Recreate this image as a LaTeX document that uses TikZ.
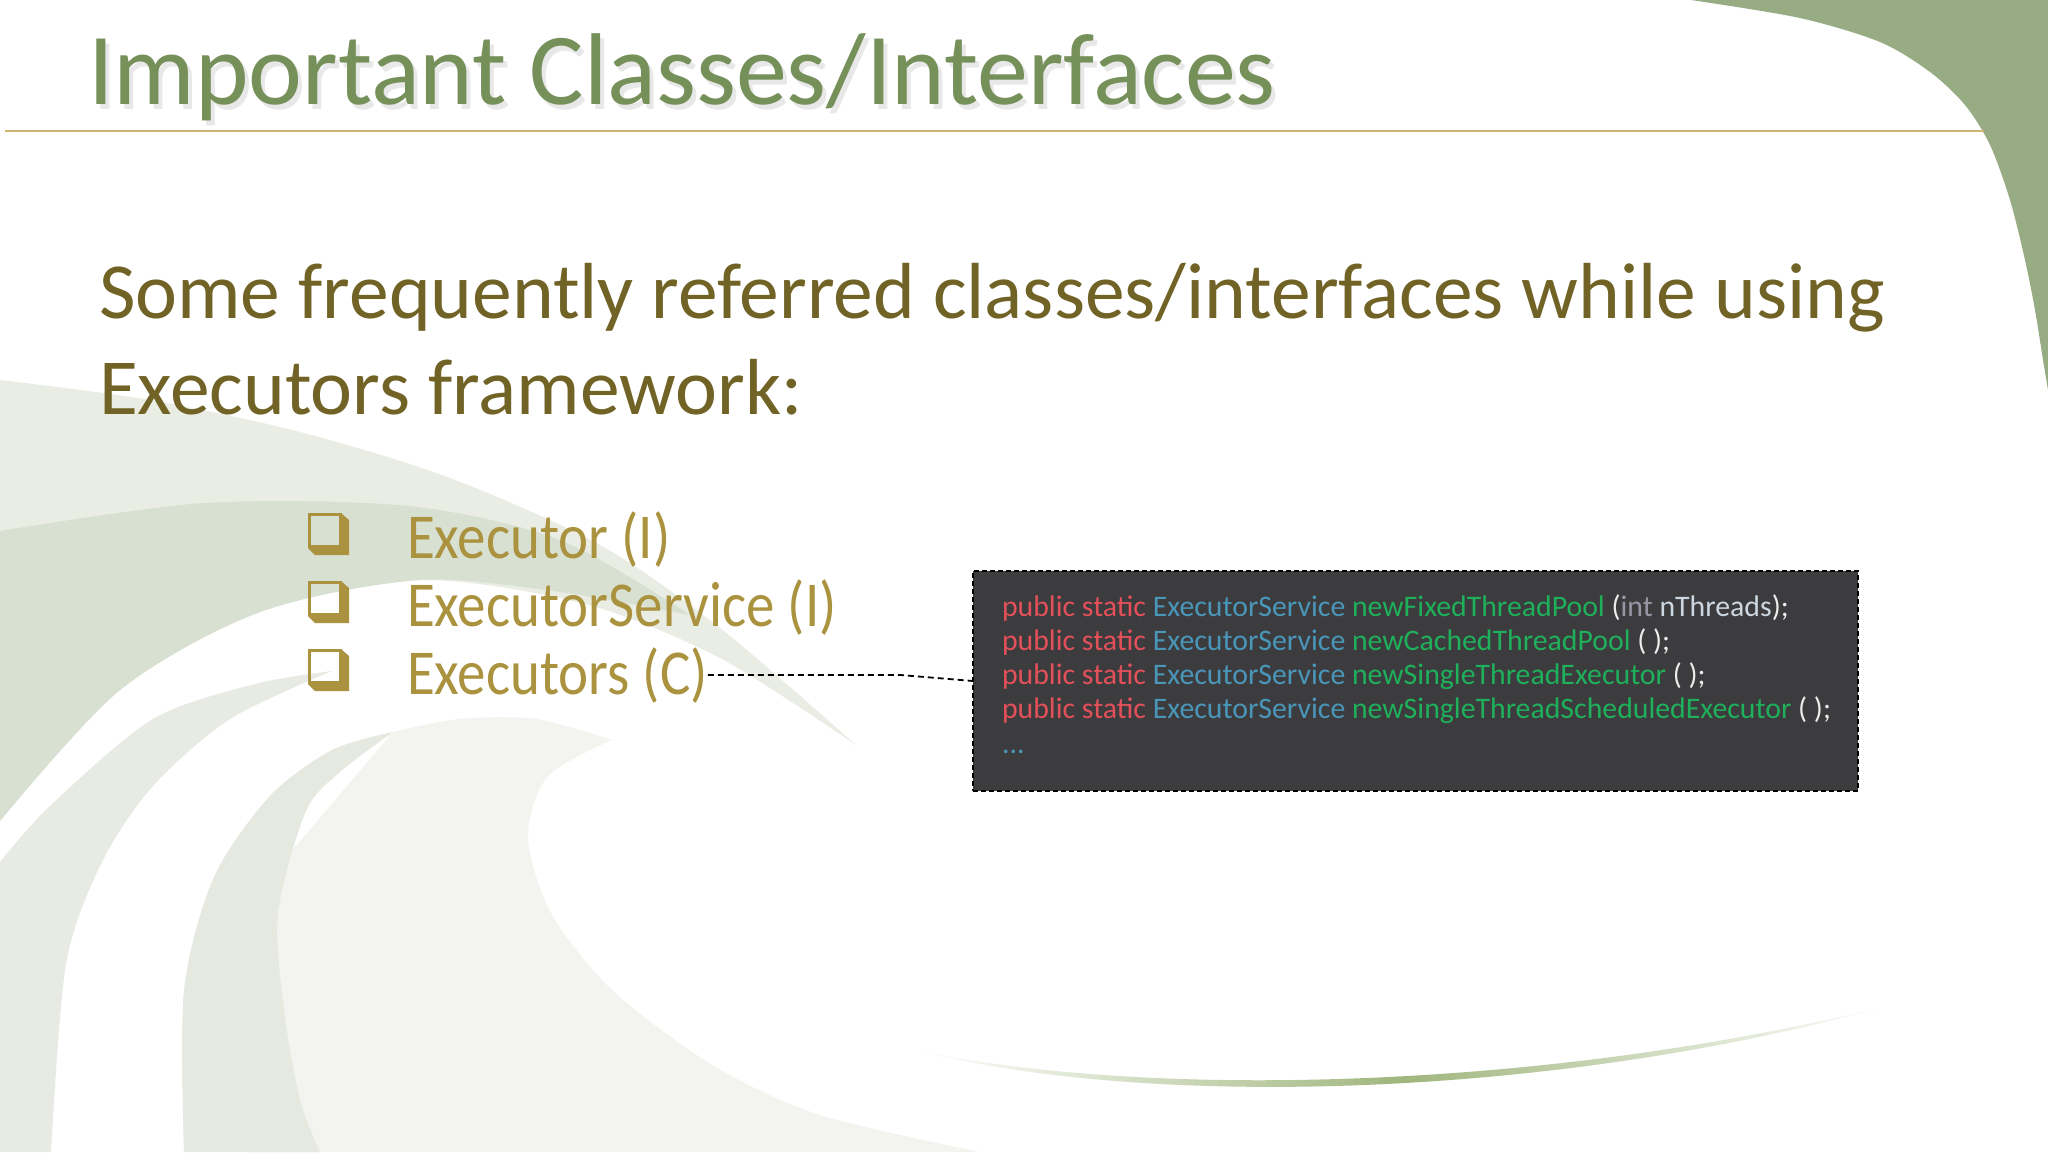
\documentclass[tikz,border=0pt]{standalone}
\usepackage{fontspec}
\setmainfont{Carlito}
\newfontfamily\bulletface[FakeStretch=0.89]{Carlito}
\usetikzlibrary{calc}
\definecolor{titlegreen}{RGB}{118,144,90}
\definecolor{bodyolive}{RGB}{113,99,38}
\definecolor{bulletgold}{RGB}{170,146,62}
\definecolor{ruletan}{RGB}{210,182,112}
\definecolor{cornergreen}{RGB}{152,172,132}
\definecolor{swooshgreen}{RGB}{160,182,125}
\definecolor{bgA}{RGB}{234,237,228}
\definecolor{bgB}{RGB}{216,224,209}
\definecolor{bgC}{RGB}{231,235,227}
\definecolor{bgD}{RGB}{229,233,224}
\definecolor{bgE}{RGB}{243,244,239}
\definecolor{codebg}{RGB}{60,60,62}
\definecolor{cred}{RGB}{228,80,90}
\definecolor{cblue}{RGB}{74,150,185}
\definecolor{cgreen}{RGB}{30,176,90}
\definecolor{cwhite}{RGB}{236,236,236}
\definecolor{cint}{RGB}{150,150,165}
\definecolor{cparam}{RGB}{205,215,225}
\tikzset{
  titlefont/.style={font=\fontsize{102}{116}\selectfont, anchor=base west},
  bodyfont/.style={font=\fontsize{79.5}{92}\selectfont, text=bodyolive, anchor=base west},
  bulletfont/.style={font=\bulletface\fontsize{64}{76}\selectfont, text=bulletgold, anchor=base west},
  codefont/.style={font=\fontsize{29.8}{36}\selectfont, anchor=base west},
  codebox/.style={draw=black, fill=codebg, line width=1.6pt, dash pattern=on 5pt off 3pt},
  conn/.style={draw=black, line width=1.8pt, dash pattern=on 6pt off 4pt},
  pics/chk/.style={code={
    \fill[bulletgold] (33,0) -- (41,7) -- (41,42) -- (7,42) -- (0,35) -- (33,35) -- cycle;
    \draw[bulletgold, line width=3.4pt] (1.7,1.7) rectangle (32.3,33.3);
  }}
}
\begin{document}
\begin{tikzpicture}[x=1pt,y=-1pt, every node/.style={inner sep=0pt, outer sep=0pt}]
\useasboundingbox (0,0) rectangle (2048,1152);
\fill[white] (0,0) rectangle (2048,1152);
% background swirls
\fill[bgE] plot[smooth] coordinates {(393,732) (459,719) (536,719) (612,740)}
  -- plot[smooth] coordinates {(612,740) (548,776) (528,837) (551,913) (612,990) (714,1066) (820,1115) (980,1152)}
  -- (250,1152) -- (250,900) -- cycle;
\fill[bgA] plot[smooth] coordinates {(0,380) (150,400) (300,432) (450,478) (600,545) (720,628) (856,745)}
  -- plot[smooth] coordinates {(856,745) (720,658) (585,604) (420,580) (260,612) (120,690) (0,821)} -- cycle;
\fill[bgB] plot[smooth] coordinates {(0,531) (204,503) (408,506) (560,540) (690,615)}
  -- plot[smooth] coordinates {(690,615) (560,592) (420,580) (260,612) (120,690) (0,821)} -- cycle;
\fill[bgC] plot[smooth] coordinates {(0,862) (51,805) (153,719) (255,684) (332,671)}
  -- plot[smooth] coordinates {(332,671) (230,719) (153,786) (102,862) (66,964) (51,1152)}
  -- (0,1152) -- cycle;
\fill[bgD] plot[smooth] coordinates {(184,1152) (184,990) (214,877) (270,796) (332,750) (393,732)}
  -- plot[smooth] coordinates {(393,732) (340,772) (306,811) (278,913) (284,1010) (300,1100) (320,1152)} -- cycle;
% bottom swoosh
\shade[left color=white, right color=white, middle color=swooshgreen]
  (915,1050) .. controls (1150,1100) and (1550,1090) .. (1890,1005)
  .. controls (1560,1098) and (1150,1110) .. (915,1050) -- cycle;
% top-right corner
\fill[cornergreen] plot[smooth] coordinates {(1691,0) (1800,18) (1880,42) (1930,72) (1965,105) (1990,145) (2010,200) (2025,260) (2035,310) (2043,360) (2048,390)}
  -- (2048,0) -- cycle;
% title with soft shadow
\node[titlefont, text=black!45, opacity=0.2] (tshadow) at (92,109) {Important Classes/Interfaces};
\node[titlefont, text=titlegreen] (title) at (88,104) {Important Classes/Interfaces};
\draw[ruletan, line width=2.5pt] (5,131) coordinate (rl) -- (1984,131) coordinate (rr);
% body
\node[bodyfont] (body1) at (99,318) {Some frequently referred classes/interfaces while using};
\node[bodyfont] (body2) at (99,414) {Executors framework:};
% bullets
\pic at (308,513) {chk};
\pic at (308,581) {chk};
\pic at (308,649) {chk};
\node[bulletfont] (exr) at (407,558) {Executor (I)};
\node[bulletfont] (exs) at (407,626) {ExecutorService (I)};
\node[bulletfont] (exc) at (407,694) {Executors (C)};
% code box
\node[codebox, minimum width=885pt, minimum height=220pt] (code) at (1415.5,681) {};
\node[codefont] (l1) at (1002,616) {\textcolor{cred}{public static} \textcolor{cblue}{ExecutorService} \textcolor{cgreen}{newFixedThreadPool} \textcolor{cwhite}{(}\textcolor{cint}{int} \textcolor{cparam}{nThreads}\textcolor{cwhite}{);}};
\node[codefont] (l2) at (1002,650.3) {\textcolor{cred}{public static} \textcolor{cblue}{ExecutorService} \textcolor{cgreen}{newCachedThreadPool} \textcolor{cwhite}{( );}};
\node[codefont] (l3) at (1002,684.6) {\textcolor{cred}{public static} \textcolor{cblue}{ExecutorService} \textcolor{cgreen}{newSingleThreadExecutor} \textcolor{cwhite}{( );}};
\node[codefont] (l4) at (1002,718.9) {\textcolor{cred}{public static} \textcolor{cblue}{ExecutorService} \textcolor{cgreen}{newSingleThreadScheduledExecutor} \textcolor{cwhite}{( );}};
\node[codefont, text=cblue] (l5) at (1002,753.2) {...};
% connector
\coordinate (bend) at (901,673);
\draw[conn] (exc.east) -- (exc.east -| bend) -- (code.west);
\end{tikzpicture}
\end{document}
